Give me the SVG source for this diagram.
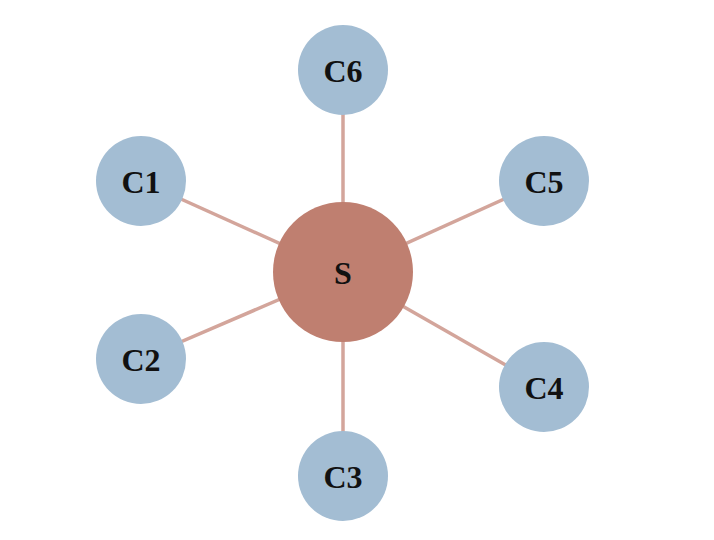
<svg xmlns="http://www.w3.org/2000/svg" width="714" height="540" viewBox="0 0 714 540">
<style>
.edge{stroke:#d3a59b;stroke-width:3.5;fill:none}
.c{fill:#a3bdd3}
.s{fill:#bf7f70}
text{font-family:"Liberation Serif","Times New Roman",serif;font-weight:bold;font-size:32px;fill:#111;text-anchor:middle;dominant-baseline:central}
</style>
<rect width="714" height="540" fill="#fff"/>
<g id="connectors">
<line class="edge" x1="343" y1="272" x2="343" y2="70"/>
<line class="edge" x1="343" y1="272" x2="141" y2="181"/>
<line class="edge" x1="343" y1="272" x2="141" y2="359"/>
<line class="edge" x1="343" y1="272" x2="343" y2="476"/>
<line class="edge" x1="343" y1="272" x2="544" y2="387"/>
<line class="edge" x1="343" y1="272" x2="544" y2="181"/>
</g>
<g id="S"><circle class="s" cx="343" cy="272" r="70"/><text x="343" y="273">S</text></g>
<g id="C6"><circle class="c" cx="343" cy="70" r="45"/><text x="343" y="71">C6</text></g>
<g id="C1"><circle class="c" cx="141" cy="181" r="45"/><text x="141" y="182">C1</text></g>
<g id="C2"><circle class="c" cx="141" cy="359" r="45"/><text x="141" y="360">C2</text></g>
<g id="C3"><circle class="c" cx="343" cy="476" r="45"/><text x="343" y="477">C3</text></g>
<g id="C4"><circle class="c" cx="544" cy="387" r="45"/><text x="544" y="388">C4</text></g>
<g id="C5"><circle class="c" cx="544" cy="181" r="45"/><text x="544" y="182">C5</text></g>
</svg>
